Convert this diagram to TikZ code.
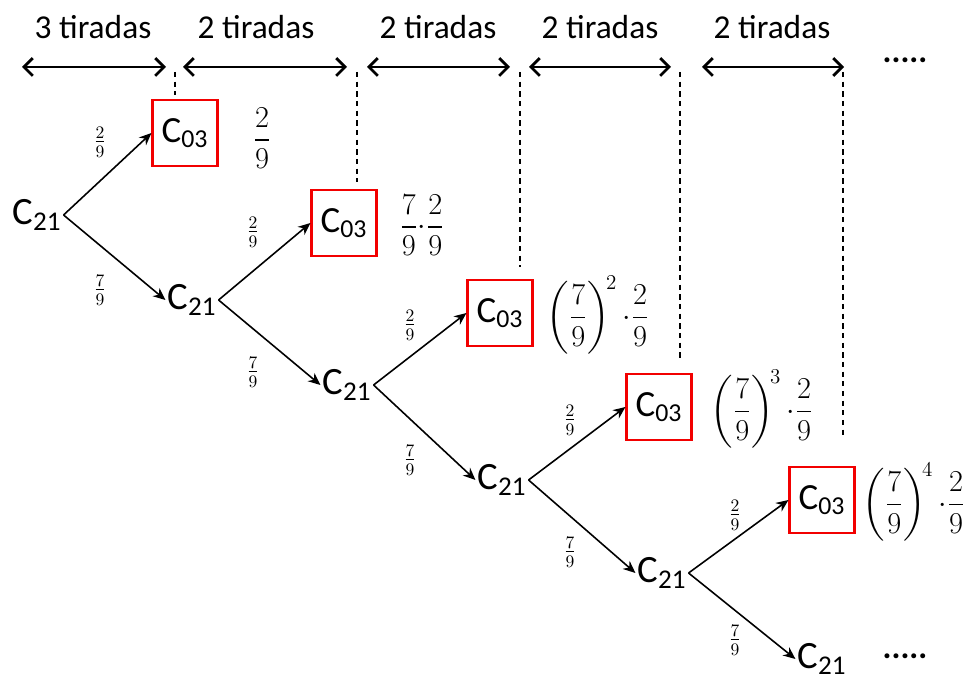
\documentclass[tikz,border=0pt]{standalone}
\usepackage{fontspec}
\setmainfont{Carlito}
\usepackage{amsmath}
\usetikzlibrary{arrows.meta,positioning,calc}

\newcommand{\Cst}[1]{C\textsubscript{#1}}
\newcommand{\pr}[2]{\tfrac{#1}{#2}}

\begin{document}
\begin{tikzpicture}[
  x=0.02cm, y=-0.02cm,
  state/.style={inner sep=1pt, font=\fontsize{22}{26}\selectfont},
  absorb/.style={state, draw=red!95!black, line width=1.2pt, minimum width=1.3cm, minimum height=1.32cm, font=\fontsize{21}{25}\selectfont},
  head/.style={font=\fontsize{19}{22}\selectfont},
  prob/.style={font=\fontsize{17}{20}\selectfont},
  br/.style={font=\fontsize{14}{16}\selectfont, inner sep=0pt},
  arrow/.style={-{Stealth[length=7pt,width=6pt]}, line width=0.9pt},
  span/.style={{Straight Barb[length=5pt,width=10pt]}-{Straight Barb[length=5pt,width=10pt]}, line width=1.6pt},
  guide/.style={dash pattern=on 3pt off 2.5pt, line width=0.6pt}
]
  \useasboundingbox (0,0) rectangle (965,682);

  % header
  \node[head] (t1) at (93,27) {3 tiradas};
  \node[head] (t2) at (256,27) {2 tiradas};
  \node[head] (t3) at (438,27) {2 tiradas};
  \node[head] (t4) at (600,27) {2 tiradas};
  \node[head] (t5) at (772,27) {2 tiradas};
  \node[head, font=\fontsize{19}{22}\selectfont\bfseries] (dt) at (905,60) {.....};

  \coordinate (a1) at (22,67);  \coordinate (a2) at (166,67);
  \coordinate (a3) at (183,67); \coordinate (a4) at (347,67);
  \coordinate (a5) at (367,67); \coordinate (a6) at (510,67);
  \coordinate (a7) at (529,67); \coordinate (a8) at (671,67);
  \coordinate (a9) at (702,67); \coordinate (a10) at (844,67);
  \draw[span] (a1) -- (a2);
  \draw[span] (a3) -- (a4);
  \draw[span] (a5) -- (a6);
  \draw[span] (a7) -- (a8);
  \draw[span] (a9) -- (a10);

  % states
  \node[state] (c0) at (37,215) {\Cst{21}};
  \node[absorb] (b1) at (185,133) {\Cst{03}};
  \node[state] (c1) at (192,300) {\Cst{21}};
  \node[absorb] (b2) at (344,223) {\Cst{03}};
  \node[state] (c2) at (347,385) {\Cst{21}};
  \node[absorb] (b3) at (500,313) {\Cst{03}};
  \node[state] (c3) at (502,480) {\Cst{21}};
  \node[absorb] (b4) at (659,407) {\Cst{03}};
  \node[state] (c4) at (662,573) {\Cst{21}};
  \node[absorb] (b5) at (822,500) {\Cst{03}};
  \node[state] (c5) at (822,659) {\Cst{21}};
  \node[head, font=\fontsize{19}{22}\selectfont\bfseries] (de) at (905,656) {.....};

  % dashed guides
  \coordinate (g1) at (175,72);
  \coordinate (g2) at (357,72);
  \coordinate (g3) at (520,72);
  \coordinate (g4) at (680,72);
  \coordinate (g5) at (843,72);
  \draw[guide] (g1) -- ($(g1 |- b1.north)+(0,-4)$);
  \draw[guide] (g2) -- ($(g2 |- b2.north)+(0,-7)$);
  \draw[guide] (g3) -- ($(g3 |- b3.north)+(0,-12)$);
  \draw[guide] (g4) -- ($(g4 |- b4.north)+(0,-13)$);
  \draw[guide] (g5) -- ($(g5 |- b5.north)+(0,-27)$);

  % branches
  \draw[arrow] (c0.east) -- (b1.west);
  \draw[arrow] (c0.east) -- (c1.west);
  \draw[arrow] (c1.east) -- (b2.west);
  \draw[arrow] (c1.east) -- (c2.west);
  \draw[arrow] (c2.east) -- (b3.west);
  \draw[arrow] (c2.east) -- (c3.west);
  \draw[arrow] (c3.east) -- (b4.west);
  \draw[arrow] (c3.east) -- (c4.west);
  \draw[arrow] (c4.east) -- (b5.west);
  \draw[arrow] (c4.east) -- (c5.west);

  \node[br] (u1) at (100,142) {$\pr{2}{9}$};
  \node[br] (d1) at (100,290) {$\pr{7}{9}$};
  \node[br] (u2) at (253,232) {$\pr{2}{9}$};
  \node[br] (d2) at (253,372) {$\pr{7}{9}$};
  \node[br] (u3) at (410,325) {$\pr{2}{9}$};
  \node[br] (d3) at (410,460) {$\pr{7}{9}$};
  \node[br] (u4) at (570,420) {$\pr{2}{9}$};
  \node[br] (d4) at (570,552) {$\pr{7}{9}$};
  \node[br] (u5) at (735,515) {$\pr{2}{9}$};
  \node[br] (d5) at (735,640) {$\pr{7}{9}$};

  % probabilities
  \node[prob] (p1) at (262,138) {$\dfrac{2}{9}$};
  \node[prob] (p2) at (422,225) {$\dfrac{7}{9}{\cdot}\dfrac{2}{9}$};
  \node[prob] (p3) at (598,315) {$\left(\dfrac{7}{9}\right)^{\!2}{\cdot}\dfrac{2}{9}$};
  \node[prob] (p4) at (762,409) {$\left(\dfrac{7}{9}\right)^{\!3}{\cdot}\dfrac{2}{9}$};
  \node[prob] (p5) at (914,502) {$\left(\dfrac{7}{9}\right)^{\!4}{\cdot}\dfrac{2}{9}$};
\end{tikzpicture}
\end{document}
